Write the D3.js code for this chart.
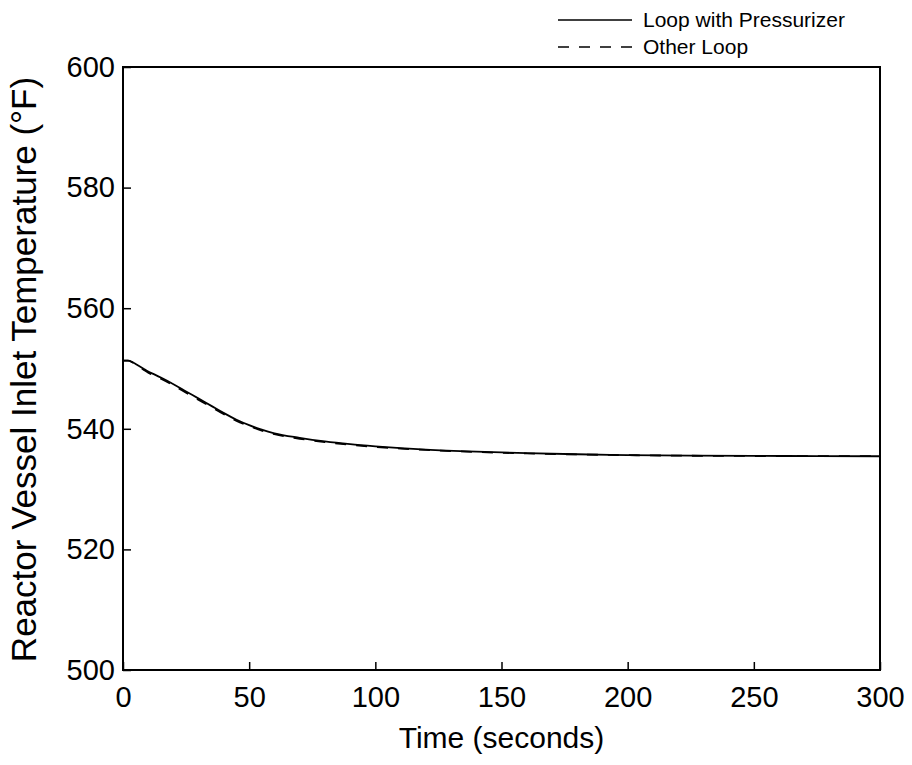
<!DOCTYPE html>
<html>
<head>
<meta charset="utf-8">
<script src="https://cdn.jsdelivr.net/npm/d3@7"></script>
<style>
  html, body { margin: 0; padding: 0; background: #fff; }
  svg { display: block; }
  text { font-family: Arial, "Liberation Sans", sans-serif; fill: #000; }
</style>
</head>
<body>
<svg id="chart" width="912" height="765"></svg>
<script>
// ---- data ----
const timeSec = [0, 2, 4, 6, 8, 10, 12, 15, 20, 25, 30, 35, 40, 45, 50, 55, 60, 70, 80, 90, 100, 110, 120, 140, 160, 180, 200, 225, 250, 275, 300];
const loopWithPressurizer = [551.3, 551.3, 551.0, 550.5, 550.0, 549.5, 549.1, 548.5, 547.4, 546.2, 545.0, 543.8, 542.6, 541.5, 540.6, 539.85, 539.25, 538.5, 537.9, 537.45, 537.1, 536.8, 536.55, 536.2, 535.95, 535.78, 535.65, 535.55, 535.5, 535.48, 535.45];
const otherLoop = [551.3, 551.3, 550.95, 550.4, 549.85, 549.3, 548.9, 548.3, 547.2, 546.0, 544.8, 543.6, 542.4, 541.3, 540.45, 539.7, 539.1, 538.35, 537.8, 537.35, 537.0, 536.72, 536.5, 536.15, 535.92, 535.75, 535.63, 535.53, 535.49, 535.47, 535.45];
const xTicks = [0, 50, 100, 150, 200, 250, 300];
const yTicks = [500, 520, 540, 560, 580, 600];
const seriesNames = ["Loop with Pressurizer", "Other Loop"];
const xTitle = "Time (seconds)";
const yTitle = "Reactor Vessel Inlet Temperature (°F)";

// ---- layout ----
const L = 123, R = 880, T = 67, B = 670;
const svg = d3.select("#chart");
const x = d3.scaleLinear().domain([0, 300]).range([L, R]);
const y = d3.scaleLinear().domain([500, 600]).range([B, T]);

// frame
svg.append("rect")
  .attr("x", L).attr("y", T).attr("width", R - L).attr("height", B - T)
  .attr("fill", "none").attr("stroke", "#000").attr("stroke-width", 2);

// axes with inward ticks
const xAxis = d3.axisBottom(x).tickValues(xTicks).tickSizeInner(-8).tickSizeOuter(0).tickPadding(16);
const gx = svg.append("g").attr("transform", `translate(0,${B})`).call(xAxis);
gx.select(".domain").remove();
gx.selectAll(".tick line").attr("stroke", "#000").attr("stroke-width", 1.5);
gx.selectAll(".tick text").attr("font-size", 29).attr("font-family", "Arial, 'Liberation Sans', sans-serif").attr("fill", "#000");

const yAxis = d3.axisLeft(y).tickValues(yTicks).tickSizeInner(-8).tickSizeOuter(0).tickPadding(8);
const gy = svg.append("g").attr("transform", `translate(${L},0)`).call(yAxis);
gy.select(".domain").remove();
gy.selectAll(".tick line").attr("stroke", "#000").attr("stroke-width", 1.5);
gy.selectAll(".tick text").attr("font-size", 29).attr("font-family", "Arial, 'Liberation Sans', sans-serif").attr("fill", "#000");

// lines
const line = d3.line().x((d, i) => x(timeSec[i])).y(d => y(d)).curve(d3.curveMonotoneX);
svg.append("path").datum(otherLoop).attr("d", line)
  .attr("fill", "none").attr("stroke", "#000").attr("stroke-width", 1.8).attr("stroke-dasharray", "11,10");
svg.append("path").datum(loopWithPressurizer).attr("d", line)
  .attr("fill", "none").attr("stroke", "#000").attr("stroke-width", 1.8);

// axis titles
svg.append("text").attr("x", (L + R) / 2).attr("y", 748).attr("text-anchor", "middle")
  .attr("font-size", 30).text(xTitle);
svg.append("text").attr("transform", `translate(36,${(T + B) / 2 + 1}) rotate(-90)`).attr("text-anchor", "middle")
  .attr("font-size", 35).text(yTitle);

// legend
const legend = svg.append("g");
seriesNames.forEach((name, i) => {
  const ly = 20 + i * 27;
  legend.append("line").attr("x1", 558).attr("x2", 632).attr("y1", ly).attr("y2", ly)
    .attr("stroke", "#000").attr("stroke-width", 1.5)
    .attr("stroke-dasharray", i === 1 ? "11,10" : null);
  legend.append("text").attr("x", 643).attr("y", ly + 7).attr("font-size", 21).text(name);
});
</script>
</body>
</html>
